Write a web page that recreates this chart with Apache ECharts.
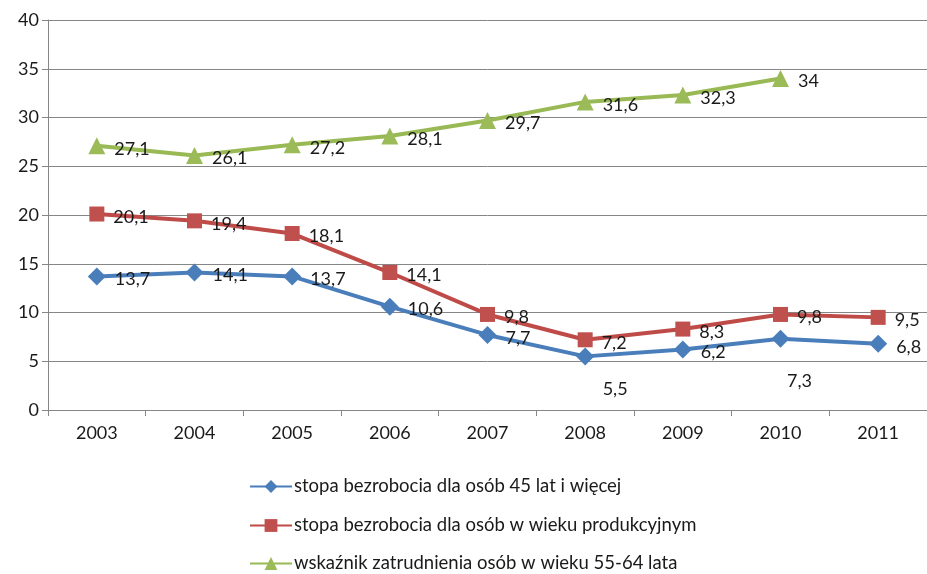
<!DOCTYPE html>
<html><head><meta charset="utf-8">
<script src="https://cdn.jsdelivr.net/npm/echarts@6/dist/echarts.min.js"></script>
<style>html,body{margin:0;padding:0;background:#fff}#c{width:927px;height:574px}</style>
</head><body><div id="c"></div>
<script>
var years = ['2003','2004','2005','2006','2007','2008','2009','2010','2011'];
var s1Name = 'stopa bezrobocia dla osób 45 lat i więcej';
var s2Name = 'stopa bezrobocia dla osób w wieku produkcyjnym';
var s3Name = 'wskaźnik zatrudnienia osób w wieku 55-64 lata';
var s1 = [13.7, 14.1, 13.7, 10.6, 7.7, 5.5, 6.2, 7.3, 6.8];
var s2 = [20.1, 19.4, 18.1, 14.1, 9.8, 7.2, 8.3, 9.8, 9.5];
var s3 = [27.1, 26.1, 27.2, 28.1, 29.7, 31.6, 32.3, 34, null];

var FONT = 'Lato, "Open Sans", sans-serif';
function fmt(p){ return String(p.value).replace('.', ','); }
var s1Data = s1.map(function(v,i){
  if (i === 5) return {value: v, label: {position: 'bottom', offset: [30, 6]}};
  if (i === 7) return {value: v, label: {position: 'bottom', offset: [19, 15]}};
  return v;
});
var chart = echarts.init(document.getElementById('c'));
var baseLabel = {show: true, position: 'right', distance: 9, offset: [0, 3], formatter: fmt,
  color: '#1a1a1a', fontSize: 18, fontFamily: FONT};
function leg(name, top){
  return {orient: 'vertical', left: 249, top: top, padding: 0, itemWidth: 42, itemHeight: 16,
    textStyle: {fontSize: 18.5, fontFamily: FONT, color: '#1a1a1a', padding: [0,0,0,-3]},
    data: [name]};
}
chart.setOption({
  animation: false,
  grid: {left: 48, top: 20, width: 882, height: 390, containLabel: false},
  legend: [leg(s1Name, 477), leg(s2Name, 516), leg(s3Name, 554)],
  xAxis: {
    type: 'category', data: years, boundaryGap: true,
    axisLine: {lineStyle: {color: '#868686', width: 1}},
    axisTick: {show: true, length: 6, lineStyle: {color: '#868686'}},
    axisLabel: {fontSize: 18, fontFamily: FONT, color: '#1a1a1a', margin: 14}
  },
  yAxis: {
    type: 'value', min: 0, max: 40, interval: 5,
    axisLine: {show: true, lineStyle: {color: '#868686', width: 1}},
    axisTick: {show: true, length: 6, lineStyle: {color: '#868686'}},
    splitLine: {lineStyle: {color: '#868686', width: 1}},
    axisLabel: {fontSize: 18, fontFamily: FONT, color: '#1a1a1a', margin: 9}
  },
  series: [
    {name: s1Name, type: 'line', data: s1Data, symbol: 'diamond', symbolSize: 18,
     lineStyle: {width: 4, color: '#4A7EBB'}, itemStyle: {color: '#4A7EBB'}, label: baseLabel},
    {name: s2Name, type: 'line', data: s2, symbol: 'rect', symbolSize: 15,
     lineStyle: {width: 4, color: '#BE4B48'}, itemStyle: {color: '#C0504D'}, label: baseLabel},
    {name: s3Name, type: 'line', data: s3, symbol: 'triangle', symbolSize: 17,
     lineStyle: {width: 4, color: '#98B954'}, itemStyle: {color: '#9BBB59'}, label: baseLabel}
  ]
});
</script></body></html>
